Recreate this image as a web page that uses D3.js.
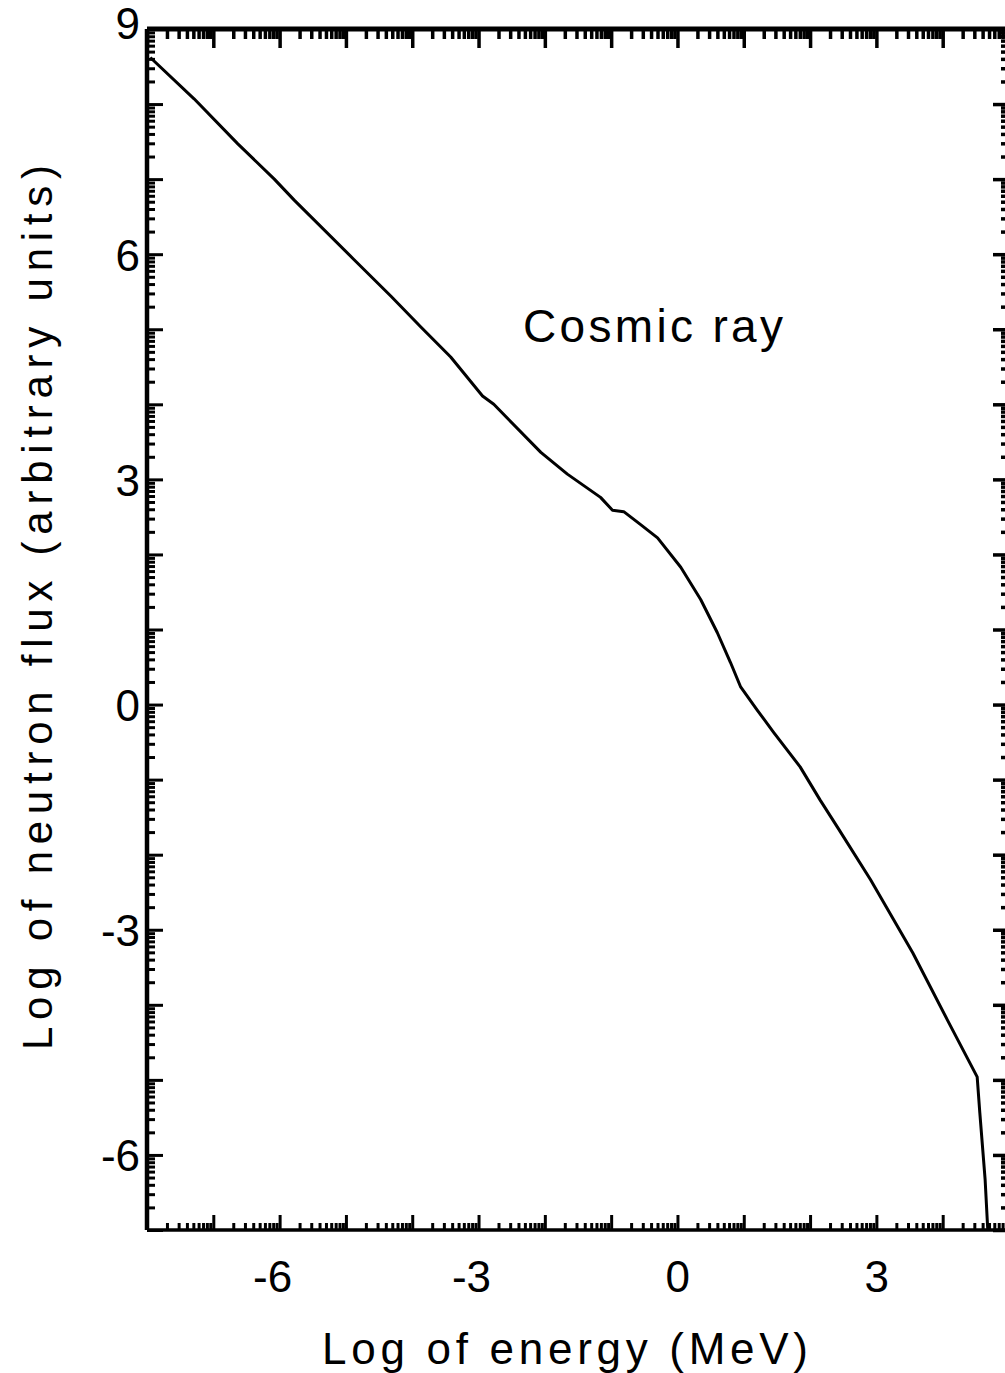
<!DOCTYPE html>
<html>
<head>
<meta charset="utf-8">
<script src="https://cdn.jsdelivr.net/npm/d3@7"></script>
<style>
html,body{margin:0;padding:0;background:#fff;}
svg{display:block;}
text{font-family:"Liberation Sans", Arial, sans-serif;fill:#000;}
</style>
</head>
<body>
<svg id="chart" width="1005" height="1373"></svg>
<script>
// ---- data ----
const energy = [-7.95,-7.29,-6.63,-6.08,-5.78,-4.88,-4.32,-3.87,-3.42,-2.94,-2.77,-2.06,-1.66,-1.16,-0.98,-0.81,-0.56,-0.30,0.05,0.35,0.60,0.80,0.95,1.20,1.45,1.85,2.15,2.41,2.91,3.55,4.07,4.52,4.56,4.64,4.68];
const flux   = [8.62,8.07,7.47,7.00,6.72,5.93,5.44,5.03,4.63,4.11,4.00,3.36,3.07,2.76,2.59,2.57,2.40,2.22,1.83,1.40,0.96,0.56,0.24,-0.07,-0.37,-0.83,-1.27,-1.63,-2.33,-3.31,-4.20,-4.96,-5.44,-6.33,-7.00];
const xDomain = [-8, 5];
const yDomain = [-7, 9];
const xLabelTicks = [-6, -3, 0, 3];
const yLabelTicks = [9, 6, 3, 0, -3, -6];
const seriesLabel = "Cosmic ray";
const xTitle = "Log of energy (MeV)";
const yTitle = "Log of neutron flux (arbitrary units)";

// ---- layout ----
const L = 147, R = 1009, T = 29, B = 1230;
const svg = d3.select("#chart");
svg.append("rect").attr("width",1005).attr("height",1373).attr("fill","#fff");

const x = d3.scaleLinear().domain(xDomain).range([L, R]);
const y = d3.scaleLinear().domain(yDomain).range([B, T]);

const xMajor = d3.range(xDomain[0], xDomain[1] + 1);
const yMajor = d3.range(yDomain[0], yDomain[1] + 1);
function minors(majors, dom){
  const out = [];
  majors.forEach(n => { for (let k = 2; k <= 9; k++){ const v = n + Math.log10(k); if (v > dom[0] && v < dom[1]) out.push(v); } });
  return out;
}
const xMinor = minors(xMajor, xDomain);
const yMinor = minors(yMajor, yDomain);
const fmt = d => (d < 0 ? "-" + Math.abs(d) : String(d));

function styleAxis(g, w){
  g.select(".domain").remove();
  g.selectAll(".tick line").attr("stroke","#000").attr("stroke-width", w);
}

// minor ticks
svg.append("g").attr("transform",`translate(0,${B})`)
  .call(d3.axisBottom(x).tickValues(xMinor).tickSize(-7).tickFormat(""))
  .call(g => styleAxis(g, 3));
svg.append("g").attr("transform",`translate(0,${T})`)
  .call(d3.axisTop(x).tickValues(xMinor).tickSize(-10).tickFormat(""))
  .call(g => styleAxis(g, 3.5));
svg.append("g").attr("transform",`translate(${L},0)`)
  .call(d3.axisLeft(y).tickValues(yMinor).tickSize(-8).tickFormat(""))
  .call(g => styleAxis(g, 3));
svg.append("g").attr("transform",`translate(${R},0)`)
  .call(d3.axisRight(y).tickValues(yMinor).tickSize(-8).tickFormat(""))
  .call(g => styleAxis(g, 3.5));

// major ticks
svg.append("g").attr("transform",`translate(0,${T})`)
  .call(d3.axisTop(x).tickValues(xMajor).tickSize(-19).tickFormat(""))
  .call(g => styleAxis(g, 3.5));
svg.append("g").attr("transform",`translate(${R},0)`)
  .call(d3.axisRight(y).tickValues(yMajor).tickSize(-16).tickFormat(""))
  .call(g => styleAxis(g, 3.5));

const xAx = svg.append("g").attr("transform",`translate(0,${B})`)
  .call(d3.axisBottom(x).tickValues(xMajor).tickSize(-15)
        .tickFormat(d => xLabelTicks.includes(d) ? fmt(d) : "").tickPadding(32))
  .call(g => styleAxis(g, 3));
xAx.selectAll(".tick text").attr("font-size", 44).attr("text-anchor","end")
  .attr("dx", 12).attr("dy", 0).attr("y", 62);

const yAx = svg.append("g").attr("transform",`translate(${L},0)`)
  .call(d3.axisLeft(y).tickValues(yMajor).tickSize(-16)
        .tickFormat(d => yLabelTicks.includes(d) ? fmt(d) : "").tickPadding(7))
  .call(g => styleAxis(g, 3));
yAx.selectAll(".tick text").attr("font-size", 44).attr("dy", "0.36em");
yAx.selectAll(".tick").filter(d => d === 9).select("text").attr("dy", "0.22em");

// frame
svg.append("line").attr("x1",L).attr("x2",1005).attr("y1",T).attr("y2",T).attr("stroke","#000").attr("stroke-width",5);
svg.append("line").attr("x1",L).attr("x2",1005).attr("y1",B).attr("y2",B).attr("stroke","#000").attr("stroke-width",3.5);
svg.append("line").attr("x1",L).attr("x2",L).attr("y1",T).attr("y2",B).attr("stroke","#000").attr("stroke-width",4.5);
svg.append("line").attr("x1",R).attr("x2",R).attr("y1",T).attr("y2",B).attr("stroke","#000").attr("stroke-width",4);

// curve
const pts = energy.map((e,i) => [e, flux[i]]);
svg.append("path").datum(pts)
  .attr("fill","none").attr("stroke","#000").attr("stroke-width",3)
  .attr("stroke-linejoin","round")
  .attr("d", d3.line().x(d => x(d[0])).y(d => y(d[1])).curve(d3.curveLinear));

// labels
svg.append("text").attr("x", 523).attr("y", 342).attr("font-size", 46)
  .attr("textLength", 260).attr("lengthAdjust","spacing").text(seriesLabel);
svg.append("text").attr("x", 322).attr("y", 1364).attr("font-size", 44)
  .attr("textLength", 486).attr("lengthAdjust","spacing").text(xTitle);
svg.append("text").attr("transform","translate(52,1050) rotate(-90)").attr("font-size", 42)
  .attr("textLength", 885).attr("lengthAdjust","spacing").text(yTitle);
</script>
</body>
</html>
